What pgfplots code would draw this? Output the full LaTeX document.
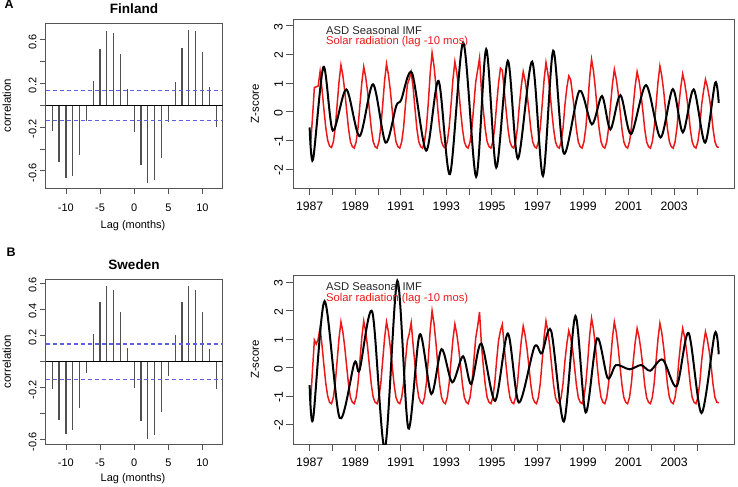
\documentclass[border=0pt]{standalone}
\usepackage{pgfplots}
\pgfplotsset{compat=1.18}
\usepackage{pgfplotstable}
\usepackage{fontspec}
\setmainfont{Liberation Sans}
\definecolor{rred}{RGB}{235,25,25}
\definecolor{rblue}{RGB}{95,95,225}
\definecolor{boxgray}{RGB}{85,85,85}
\definecolor{combgray}{RGB}{80,80,80}

\pgfplotstableread{
lag fin swe
-12 -0.235 -0.214
-11 -0.520 -0.447
-10 -0.670 -0.557
-9 -0.644 -0.528
-8 -0.458 -0.357
-7 -0.140 -0.092
-6 0.223 0.209
-5 0.519 0.454
-4 0.684 0.582
-3 0.662 0.551
-2 0.467 0.383
-1 0.147 0.107
0 -0.241 -0.207
1 -0.546 -0.460
2 -0.708 -0.592
3 -0.687 -0.567
4 -0.482 -0.390
5 -0.156 -0.110
6 0.217 0.204
7 0.525 0.454
8 0.690 0.580
9 0.678 0.551
10 0.485 0.378
11 0.168 0.097
12 -0.195 -0.214
}\ccf

\pgfplotstableread{
t fin swe
0.5 -1.17 -1.20
1.5 -0.20 -0.10
2.5 0.85 0.97
3.5 0.87 0.83
4.5 0.90 1.00
5.5 1.40 1.40
6.5 0.80 0.80
7.5 0.10 0.10
8.5 -0.55 -0.55
9.5 -1.00 -1.00
10.5 -1.20 -1.22
11.5 -1.25 -1.27
12.5 -1.05 -1.05
13.5 -0.55 -0.55
14.5 0.25 0.25
15.5 1.06 1.05
16.5 1.63 1.61
17.5 1.27 1.26
18.5 0.73 0.72
19.5 0.05 0.05
20.5 -0.60 -0.60
21.5 -1.05 -1.05
22.5 -1.22 -1.22
23.5 -1.27 -1.27
24.5 -1.05 -1.05
25.5 -0.55 -0.55
26.5 0.25 0.25
27.5 1.02 1.07
28.5 1.57 1.64
29.5 1.22 1.28
30.5 0.71 0.74
31.5 0.05 0.05
32.5 -0.60 -0.60
33.5 -1.05 -1.05
34.5 -1.22 -1.22
35.5 -1.27 -1.27
36.5 -1.05 -1.05
37.5 -0.55 -0.55
38.5 0.25 0.25
39.5 1.09 1.05
40.5 1.67 1.61
41.5 1.30 1.26
42.5 0.75 0.72
43.5 0.05 0.05
44.5 -0.60 -0.60
45.5 -1.05 -1.05
46.5 -1.22 -1.22
47.5 -1.27 -1.27
48.5 -1.05 -1.05
49.5 -0.55 -0.55
50.5 0.25 0.25
51.5 0.95 0.95
52.5 1.15 1.20
53.5 1.38 1.58
54.5 0.85 0.80
55.5 0.10 0.10
56.5 -0.60 -0.60
57.5 -1.05 -1.05
58.5 -1.22 -1.22
59.5 -1.27 -1.27
60.5 -1.05 -1.05
61.5 -0.55 -0.55
62.5 0.30 0.30
63.5 1.34 1.30
64.5 2.06 2.00
65.5 1.61 1.56
66.5 0.93 0.90
67.5 0.10 0.10
68.5 -0.60 -0.60
69.5 -1.05 -1.05
70.5 -1.22 -1.22
71.5 -1.27 -1.27
72.5 -1.05 -1.05
73.5 -0.55 -0.55
74.5 0.25 0.25
75.5 1.14 1.00
76.5 1.75 1.53
77.5 1.37 1.19
78.5 0.79 0.69
79.5 0.05 0.05
80.5 -0.60 -0.60
81.5 -1.05 -1.05
82.5 -1.22 -1.22
83.5 -1.27 -1.27
84.5 -1.05 -1.05
85.5 -0.55 -0.55
86.5 0.25 0.25
87.5 1.05 1.05
88.5 1.45 1.45
89.5 1.88 1.96
90.5 0.75 0.80
91.5 0.05 0.05
92.5 -0.60 -0.60
93.5 -1.05 -1.05
94.5 -1.22 -1.22
95.5 -1.27 -1.27
96.5 -1.05 -1.05
97.5 -0.55 -0.55
98.5 0.25 0.25
99.5 0.99 0.95
100.5 1.52 1.30
101.5 1.45 1.52
102.5 0.75 0.75
103.5 0.05 0.05
104.5 -0.60 -0.60
105.5 -1.05 -1.05
106.5 -1.22 -1.22
107.5 -1.27 -1.27
108.5 -1.05 -1.05
109.5 -0.55 -0.55
110.5 0.25 0.25
111.5 0.91 0.95
112.5 1.40 1.46
113.5 1.09 1.14
114.5 0.63 0.66
115.5 0.05 0.05
116.5 -0.60 -0.60
117.5 -1.05 -1.05
118.5 -1.22 -1.22
119.5 -1.27 -1.27
120.5 -1.05 -1.05
121.5 -0.55 -0.55
122.5 0.25 0.25
123.5 1.12 1.07
124.5 1.72 1.64
125.5 1.34 1.28
126.5 0.77 0.74
127.5 0.05 0.05
128.5 -0.60 -0.60
129.5 -1.05 -1.05
130.5 -1.22 -1.22
131.5 -1.27 -1.27
132.5 -1.05 -1.05
133.5 -0.55 -0.55
134.5 0.25 0.25
135.5 0.85 0.85
136.5 1.25 1.30
137.5 1.12 1.05
138.5 0.60 0.65
139.5 0.05 0.05
140.5 -0.60 -0.60
141.5 -1.05 -1.05
142.5 -1.22 -1.22
143.5 -1.27 -1.27
144.5 -1.05 -1.05
145.5 -0.55 -0.55
146.5 0.25 0.25
147.5 1.19 1.13
148.5 1.83 1.74
149.5 1.43 1.36
150.5 0.82 0.78
151.5 0.05 0.05
152.5 -0.60 -0.60
153.5 -1.05 -1.05
154.5 -1.22 -1.22
155.5 -1.27 -1.27
156.5 -1.05 -1.05
157.5 -0.55 -0.55
158.5 0.25 0.25
159.5 0.96 1.05
160.5 1.48 1.61
161.5 1.15 1.26
162.5 0.67 0.72
163.5 0.05 0.05
164.5 -0.60 -0.60
165.5 -1.05 -1.05
166.5 -1.22 -1.22
167.5 -1.27 -1.27
168.5 -1.05 -1.05
169.5 -0.55 -0.55
170.5 0.25 0.25
171.5 0.91 0.90
172.5 1.40 1.38
173.5 1.09 1.08
174.5 0.63 0.62
175.5 0.05 0.05
176.5 -0.60 -0.60
177.5 -1.05 -1.05
178.5 -1.22 -1.22
179.5 -1.27 -1.27
180.5 -1.05 -1.05
181.5 -0.55 -0.55
182.5 0.25 0.25
183.5 1.04 1.01
184.5 1.60 1.56
185.5 1.25 1.22
186.5 0.72 0.70
187.5 0.05 0.05
188.5 -0.60 -0.60
189.5 -1.05 -1.05
190.5 -1.22 -1.22
191.5 -1.27 -1.27
192.5 -1.05 -1.05
193.5 -0.55 -0.55
194.5 0.25 0.25
195.5 0.86 0.90
196.5 1.32 1.38
197.5 1.03 1.08
198.5 0.59 0.62
199.5 0.05 0.05
200.5 -0.60 -0.60
201.5 -1.05 -1.05
202.5 -1.22 -1.22
203.5 -1.27 -1.27
204.5 -1.05 -1.05
205.5 -0.55 -0.55
206.5 0.25 0.25
207.5 0.73 0.82
208.5 1.13 1.26
209.5 0.88 0.98
210.5 0.51 0.57
211.5 0.05 0.05
212.5 -0.60 -0.60
213.5 -1.05 -1.05
214.5 -1.22 -1.22
215.5 -1.25 -1.24
}\solar

\pgfplotsset{
  base/.style={
    scale only axis, anchor=north west,
    axis line style={draw=boxgray, line width=0.8bp},
    every tick/.style={draw=boxgray, line width=0.8bp},
    tick align=outside,
    xtick pos=bottom, ytick pos=left,
    minor tick num=0,
  },
  ccfax/.style={
    base, width=177bp, height=165bp,
    major tick length=5.7bp,
    xmin=-12.96, xmax=12.96,
    xtick={-10,-5,0,5,10}, xticklabels={-10,-5,0,5,10},
    ytick={-0.6,-0.4,-0.2,0,0.2,0.4,0.6},
    ticklabel style={font=\fontsize{11}{13}\selectfont},
    yticklabel style={rotate=90, anchor=south, xshift=-2bp},
    xticklabel style={anchor=north, yshift=-6bp},
  },
  tsax/.style={
    base, width=441bp, height=169bp,
    major tick length=7bp,
    xmin=-8.6, xmax=223.7,
    xtick={0,12,24,36,48,60,72,84,96,108,120,132,144,156,168,180,192,204},
    xticklabels={1987,,1989,,1991,,1993,,1995,,1997,,1999,,2001,,2003,},
    ytick={-2,-1,0,1,2,3}, yticklabels={-2,-1,0,1,2,3},
    ticklabel style={font=\fontsize{12.3}{14}\selectfont},
    yticklabel style={rotate=90, anchor=south, xshift=-1bp},
    xticklabel style={anchor=north, yshift=-3bp},
  },
}

\begin{document}
\begin{tikzpicture}[x=1bp,y=1bp]
\path[use as bounding box] (0,0) rectangle (738,-487);

% ---------- A: Finland CCF ----------
\begin{axis}[ccfax, at={(45.7bp,-23.3bp)}, ymin=-0.76, ymax=0.75,
  yticklabels={-0.6,,-0.2,,0.2,,0.6}]
\addplot[combgray, line width=1.2bp, ycomb, mark=none] table[x=lag, y=fin] {\ccf};
\addplot[black, line width=0.9bp] coordinates {(-12.96,0) (12.96,0)};
\addplot[rblue, line width=1.1bp, dash pattern=on 4bp off 3bp] coordinates {(-12.96,0.135) (12.96,0.135)};
\addplot[rblue, line width=1.1bp, dash pattern=on 4bp off 3bp] coordinates {(-12.96,-0.137) (12.96,-0.137)};
\end{axis}

% ---------- B: Sweden CCF ----------
\begin{axis}[ccfax, at={(45.7bp,-279bp)}, ymin=-0.633, ymax=0.633,
  yticklabels={-0.6,,-0.2,,0.2,0.4,0.6}]
\addplot[combgray, line width=1.2bp, ycomb, mark=none] table[x=lag, y=swe] {\ccf};
\addplot[black, line width=0.9bp] coordinates {(-12.96,0) (12.96,0)};
\addplot[rblue, line width=1.1bp, dash pattern=on 4bp off 3bp] coordinates {(-12.96,0.134) (12.96,0.134)};
\addplot[rblue, line width=1.1bp, dash pattern=on 4bp off 3bp] coordinates {(-12.96,-0.137) (12.96,-0.137)};
\end{axis}

% ---------- A: Finland time series ----------
\begin{axis}[tsax, at={(293.3bp,-19.3bp)}, ymin=-2.675, ymax=3.23]
\addplot[rred, line width=1.5bp] table[x=t, y=fin] {\solar};
\addplot[black, line width=2bp, smooth] coordinates {
(0,-0.55) (1.8,-1.67) (7.3,1.57) (12.2,-0.66) (19.3,0.78) (26.3,-0.85)
(33.4,0.96) (40.0,-1.08) (45.6,0.2) (48.2,0.41) (53.9,1.36) (61.4,-1.36)
(67.9,1.08) (73.9,-2.18) (80.9,2.41) (87.7,-2.27) (93.0,2.18) (98.3,-1.95)
(104.4,1.78) (109.7,-1.64) (117.2,1.75) (122.9,-2.24) (128.3,2.13) (133.9,-1.46)
(142.1,0.73) (148.7,-0.44) (154.0,0.55) (158.4,-0.62) (163.7,0.58) (169.3,-0.78)
(177.2,0.93) (184.8,-0.9) (191.3,0.79) (196.6,-0.72) (202.3,0.78) (208.3,-1.08)
(213.6,1.01) (215.5,0.31)};
\end{axis}

% ---------- B: Sweden time series ----------
\begin{axis}[tsax, at={(293.3bp,-275bp)}, ymin=-2.69, ymax=3.26]
\addplot[rred, line width=1.5bp] table[x=t, y=swe] {\solar};
\addplot[black, line width=2bp, smooth] coordinates {
(0,-0.62) (1.8,-1.82) (7.9,2.34) (15.8,-1.77) (23.6,0.17) (26.3,-0.09)
(33.0,1.96) (39.6,-2.85) (46.2,3.06) (52.0,-2.14) (58.0,1.17) (64.1,-0.93)
(69.5,0.65) (75.1,-0.52) (80.8,0.40) (85.1,-0.58) (90.4,0.85) (97.7,-1.17)
(104.4,1.2) (110.2,-1.23) (118.4,0.73) (122.3,0.5) (127.2,1.3) (133.9,-1.9)
(140.0,1.82) (145.4,-1.58) (151.4,1.03) (157.0,-0.37) (161.4,0.09) (168.5,-0.06)
(174.6,0.09) (179.4,-0.11) (186.0,0.28) (193.3,-0.66) (199.6,1.22) (206.4,-1.6)
(213.4,1.2) (215.5,0.47)};
\end{axis}

% ---------- text ----------
\node[font=\bfseries\fontsize{12.5}{14}\selectfont] at (9,-4.5) {A};
\node[font=\bfseries\fontsize{12.5}{14}\selectfont] at (11,-252.5) {B};
\node[font=\bfseries\fontsize{13.6}{16}\selectfont] at (134,-9) {Finland};
\node[font=\bfseries\fontsize{13.6}{16}\selectfont] at (134,-265) {Sweden};
\node[rotate=90, font=\fontsize{11.5}{13}\selectfont] at (6.8,-105.8) {correlation};
\node[rotate=90, font=\fontsize{11.5}{13}\selectfont] at (6.8,-361.7) {correlation};
\node[font=\fontsize{11}{13}\selectfont] at (133,-226) {Lag (months)};
\node[font=\fontsize{11}{13}\selectfont] at (133,-479) {Lag (months)};
\node[rotate=90, font=\fontsize{11.5}{13}\selectfont] at (255,-103.8) {Z-score};
\node[rotate=90, font=\fontsize{11.5}{13}\selectfont] at (255,-359.5) {Z-score};
\node[anchor=west, inner sep=0pt, text=black!85, font=\fontsize{11.3}{13}\selectfont] at (326,-30) {ASD Seasonal IMF};
\node[anchor=west, inner sep=0pt, text=rred, font=\fontsize{11.3}{13}\selectfont] at (326,-41.5) {Solar radiation (lag -10 mos)};
\node[anchor=west, inner sep=0pt, text=black!85, font=\fontsize{11.3}{13}\selectfont] at (326,-286.2) {ASD Seasonal IMF};
\node[anchor=west, inner sep=0pt, text=rred, font=\fontsize{11.3}{13}\selectfont] at (326,-298.5) {Solar radiation (lag -10 mos)};
\end{tikzpicture}
\end{document}
